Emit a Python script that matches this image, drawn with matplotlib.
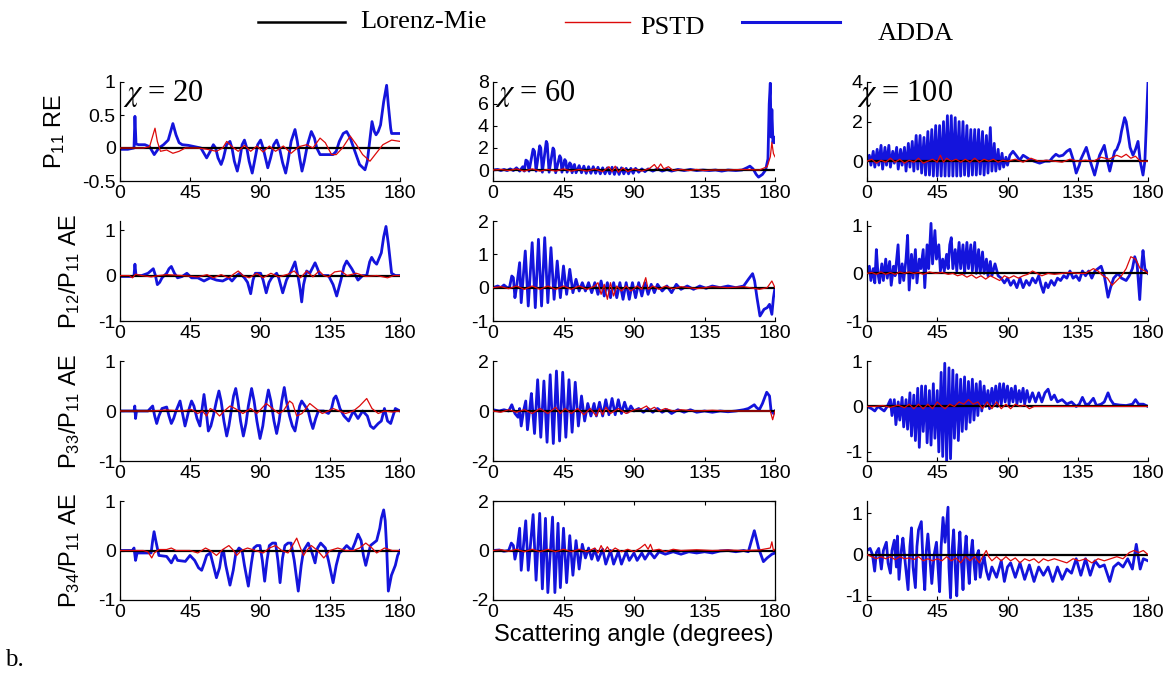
import numpy as np
import matplotlib
matplotlib.use('Agg')
import matplotlib.pyplot as plt
from matplotlib.lines import Line2D

plt.rcParams['font.family'] = 'Liberation Sans'
plt.rcParams['axes.unicode_minus'] = False
plt.rcParams['mathtext.fontset'] = 'custom'
plt.rcParams['mathtext.rm'] = 'Liberation Sans'
plt.rcParams['mathtext.it'] = 'Liberation Sans:italic'

# (angle, value) pairs; a = ADDA, p = PSTD, row/col
a11 = [(0,-0.02),(5,-0.02),(9,0.0),(9.6,0.48),(10.3,0.06),(12,0.05),(16,0.05),(19,0.02),(22,-0.1),(25,0.0),(28,0.05),(31,0.12),(34,0.37),(36,0.2),(38,0.08),(40,0.05),(44,0.04),(48,0.02),(52,0.0),(55.7,-0.15),(58,-0.05),(60,0.05),(61.5,0.0),(63,-0.15),(65,-0.25),(66.5,-0.15),(68.5,0.05),(70.7,0.1),(72,0.0),(73.5,-0.2),(75.4,-0.35),(76.8,-0.2),(78.5,0.05),(80,0.12),(81.5,0.0),(83,-0.2),(85,-0.38),(86.5,-0.2),(88.5,0.05),(90.4,0.12),(92,0.0),(93.5,-0.15),(95,-0.3),(96.8,-0.15),(98.8,0.05),(100.7,0.12),(102.5,0.0),(104.5,-0.22),(106.5,-0.38),(108,-0.2),(110,0.1),(112.5,0.28),(114,0.1),(115.5,-0.15),(117,-0.35),(118.5,-0.2),(120.5,0.05),(123,0.25),(125,0.15),(126.5,0.0),(128.6,-0.1),(132,-0.1),(137,-0.1),(139,-0.05),(141,0.1),(143.5,0.22),(145.7,0.25),(148,0.15),(151,-0.05),(154,-0.25),(157.5,-0.33),(159,-0.2),(160.5,0.1),(162,0.4),(163.5,0.25),(164.6,0.2),(166,0.25),(167.5,0.35),(169.5,0.7),(171.4,0.95),(172.5,0.65),(174,0.3),(174.6,0.22),(177,0.22),(180,0.22)]
p11 = [(0,0),(10,0),(15,0),(19,0.02),(22.5,0.3),(24,0.1),(26,-0.05),(30,-0.03),(34,-0.08),(38,-0.05),(42,0.0),(50,0.0),(56,-0.02),(62,-0.05),(66,0.0),(68.6,0.1),(72,0.02),(76,-0.05),(80,0.04),(84,-0.05),(88,0.03),(92,-0.06),(96,0.03),(100,-0.05),(105,0.03),(110,-0.08),(115,0.02),(120,0.05),(124,0.0),(128.6,0.15),(132,0.08),(136,-0.1),(139,-0.1),(143,0.0),(148,0.18),(152,0.05),(156,-0.1),(160.7,-0.2),(164,-0.1),(169,0.05),(174.6,0.12),(180,0.1)]

a12 = [(0,0.0),(3,0.05),(5,-0.05),(7,0.05),(9,-0.05),(11,0.1),(13,-0.05),(15,0.2),(17,-0.1),(19,0.3),(20,-0.1),(21,0.9),(22,0.8),(23,-0.1),(25.6,1.9),(26.5,1.7),(27.5,-0.1),(29.8,2.2),(30.5,2.0),(31.5,-0.2),(34,2.6),(34.6,2.4),(35.8,-0.2),(38.3,2.0),(39,1.8),(40,-0.25),(42.6,1.3),(43.3,1.1),(44,-0.2),(45.8,0.95),(46.5,0.8),(47.3,-0.2),(49,0.65),(49.8,0.5),(50.5,-0.25),(52,0.5),(53,-0.25),(55,0.4),(56.5,-0.25),(58,0.35),(59.5,-0.3),(61,0.3),(62.5,-0.3),(64,0.3),(65.5,-0.3),(67,0.25),(68.5,-0.35),(70,0.2),(71.5,-0.35),(73,0.2),(74.5,-0.35),(76,0.25),(77.5,-0.4),(79,0.2),(80.5,-0.4),(82,0.2),(83.5,-0.35),(85,0.15),(86.5,-0.35),(88,0.15),(89.5,-0.3),(91,0.15),(93,-0.2),(95,0.1),(97,-0.15),(99,0.1),(102,-0.1),(105,0.1),(108,-0.1),(111,0.05),(114,-0.1),(118,0.05),(122,-0.05),(126,0.05),(130,-0.05),(134,0.0),(138,-0.05),(142,0.0),(146,-0.1),(150,0.0),(155,-0.05),(159,0.0),(162,0.2),(164,0.35),(166,0.1),(168,-0.4),(169.5,-0.65),(172,-0.4),(174,0.0),(175.5,1.0),(176.3,6.0),(177,7.9),(177.5,3.0),(178,5.5),(178.7,2.5),(179.3,3.0),(180,2.5)]
p12 = [(0,0),(5,0.05),(10,-0.05),(15,0.1),(20,-0.1),(25,0.1),(30,-0.1),(35,0.05),(40,-0.1),(45,0.1),(50,-0.1),(55,0.05),(60,-0.1),(65,0.1),(70,-0.15),(74,0.3),(76,-0.15),(78,0.35),(80,-0.2),(83,0.2),(86,-0.15),(90,0.1),(95,-0.1),(100,0.15),(103,0.5),(105,0.1),(107,0.55),(109,0.1),(112,0.3),(115,-0.05),(120,0.05),(125,-0.05),(130,0.05),(135,-0.05),(140,0.0),(150,0.0),(160,0.05),(170,0.0),(175,0.3),(177,1.2),(178,2.5),(179,1.5),(180,1.2)]

a13 = [(0,0.0),(1.5,0.3),(2.5,-0.2),(4,0.5),(5,-0.3),(6.5,0.6),(7.5,-0.2),(9,0.8),(10,-0.4),(11.5,0.7),(12.5,-0.2),(14,0.8),(15,-0.3),(16.5,0.5),(17.5,-0.1),(19,0.7),(20,-0.4),(21.5,0.6),(22.5,-0.2),(24,0.7),(25,-0.5),(26.5,0.9),(27.5,-0.3),(29,1.0),(30,-0.5),(31.5,1.3),(32.5,-0.4),(34,1.3),(35,-0.6),(36.5,1.2),(37.5,-0.7),(39,1.5),(40,-0.7),(41.5,1.6),(42.5,-0.75),(44,1.8),(45,-0.75),(46.5,1.8),(47.5,-0.75),(49,2.0),(50,-0.75),(51.5,2.3),(52.5,-0.75),(54,2.3),(55,-0.75),(56.5,2.2),(57.5,-0.75),(59,2.0),(60,-0.75),(61.5,2.0),(62.5,-0.7),(64,1.8),(65,-0.75),(66.5,1.6),(67.5,-0.7),(69,1.6),(70,-0.7),(71.5,1.6),(72.5,-0.65),(74,1.5),(75,-0.7),(76.5,1.3),(77.5,-0.6),(79,1.7),(80,-0.5),(81.5,0.9),(82.5,-0.5),(84,0.6),(85,-0.4),(86.5,0.4),(87.5,-0.3),(89,0.2),(90,-0.2),(91.5,0.3),(93.5,0.5),(95.5,0.3),(97.8,0.05),(100,0.3),(102,0.2),(104,0.1),(107,0.0),(110.6,-0.1),(114,0.0),(117,0.0),(119,0.2),(121,0.35),(123,0.25),(125.5,0.3),(128,0.5),(130,0.6),(132,0.1),(134,-0.6),(136,-0.2),(137,0.1),(140.5,0.7),(143,0.0),(145.8,-0.7),(148,0.0),(149,0.3),(152,0.8),(154,0.0),(155.5,-0.5),(157,0.0),(158.7,0.5),(160,0.6),(161.9,1.0),(163,1.5),(165,2.2),(166,2.0),(167,1.5),(168.5,0.7),(170.4,0.3),(172,0.6),(173.6,1.0),(175,0.0),(176.8,-0.7),(178,0.0),(179,2.0),(180,4.0)]
p13 = [(0,0.0),(3,0.1),(6,-0.1),(9,0.05),(12,-0.05),(15,0.15),(18,-0.05),(21,0.1),(24,-0.1),(27,0.05),(30,-0.05),(33,0.15),(36,-0.1),(39,0.0),(42,0.1),(45,-0.05),(47,0.3),(49,-0.05),(51,0.15),(54,0.0),(57,0.1),(60,-0.05),(63,0.1),(66,-0.05),(69,0.15),(72,-0.05),(75,0.1),(78,0.0),(81,0.1),(84,-0.05),(87,0.05),(90,0.0),(95,0.1),(100,-0.05),(105,0.15),(110,0.0),(115,0.05),(120,0.0),(125,-0.05),(130,0.1),(135,0.0),(140,0.05),(145,0.0),(150,0.2),(155,0.1),(160,0.3),(163,0.2),(166,0.35),(169,0.15),(172,0.25),(175,0.0),(180,0.0)]

a21 = [(0,-0.02),(8,-0.02),(9,0.0),(9.6,0.25),(10.3,0.0),(14,0.0),(18,0.05),(21.4,0.15),(22.8,0.0),(24,-0.2),(25.5,-0.15),(27,-0.05),(30,0.05),(31.5,0.15),(33,0.2),(35,0.05),(37,-0.05),(40,-0.02),(43,0.05),(46,-0.05),(50,-0.05),(54,-0.12),(58,-0.05),(62,-0.1),(66,-0.12),(70,-0.05),(72,-0.12),(75,0.0),(77,0.05),(80,-0.05),(82,-0.15),(84,-0.4),(85.5,-0.1),(87,0.05),(90.4,0.05),(92,-0.1),(94,-0.38),(95.8,-0.15),(97.5,-0.05),(100.7,0.05),(102,-0.05),(104.6,-0.38),(107,-0.1),(110,0.1),(112.5,0.3),(114.6,-0.05),(115.8,-0.3),(116.8,-0.58),(118,-0.2),(120,0.1),(122,0.05),(125.4,0.28),(127,0.15),(128.6,0.0),(134,0.0),(137,-0.2),(139.3,-0.45),(142,-0.1),(144,0.2),(145.7,0.32),(149,0.15),(153,-0.1),(156,0.0),(158.6,0.0),(160.5,0.3),(161.8,0.4),(163.5,0.3),(165,0.25),(168,0.5),(169.5,0.85),(171,1.08),(172.5,0.7),(174.6,0.05),(177,0.0),(180,0.0)]
p21 = [(0,0),(6,0.0),(8,-0.05),(10,0.03),(14,0.0),(20,-0.03),(25,0.0),(30,0.02),(40,0.0),(50,-0.03),(56,0.02),(60,-0.05),(65,0.02),(70,-0.05),(73,0.03),(76,0.1),(79,0.0),(83,-0.05),(88,0.05),(92,-0.05),(97,0.05),(102,-0.03),(108,0.03),(112,0.1),(116,-0.05),(120,0.1),(124,-0.03),(128,0.1),(131,0.0),(134,-0.03),(138,0.08),(142,0.1),(146,0.0),(152,0.05),(158,-0.02),(165,0.0),(172,-0.05),(176,0.0),(180,0.0)]

a22 = [(0,0.0),(3,0.05),(5,0.0),(7,0.08),(9,0.0),(10.5,0.0),(12,0.35),(13,0.3),(14,-0.3),(15,0.0),(17,0.75),(18,-0.45),(20.6,1.1),(22.5,-0.55),(25,1.35),(27,-0.6),(29,1.45),(31,-0.55),(33,1.5),(35,-0.45),(37,1.2),(39,-0.35),(41,0.8),(43,-0.3),(45,0.65),(47,-0.2),(49,0.55),(51,-0.15),(53,0.25),(55,-0.1),(57,0.15),(59,-0.1),(61,0.15),(63,-0.15),(65,0.15),(67,-0.2),(69,0.2),(71,-0.25),(73,0.15),(75,-0.3),(77,0.15),(79,-0.3),(81,0.15),(83,-0.35),(85,0.15),(87,-0.35),(89,0.15),(91,-0.3),(93,0.15),(95,-0.25),(97,0.15),(99,-0.2),(101,0.1),(103,-0.15),(105,0.1),(108,-0.1),(111,0.05),(114,-0.15),(117,0.1),(120,-0.05),(124,0.05),(128,-0.05),(132,0.05),(136,-0.02),(140,0.05),(145,0.0),(150,0.05),(155,0.0),(160,0.05),(163,0.25),(165.7,0.42),(167,0.2),(168.5,-0.3),(170.4,-0.85),(173,-0.65),(175,-0.6),(176.5,-0.5),(178,-0.8),(179,-0.3),(180,0.0)]
p22 = [(0,0),(5,0.03),(10,-0.03),(15,0.05),(20,-0.05),(25,0.05),(30,-0.05),(35,0.05),(40,-0.05),(45,0.05),(50,-0.05),(55,0.05),(60,-0.05),(65,0.05),(67,0.15),(69,-0.2),(71,0.1),(73,-0.35),(75,0.15),(77,-0.25),(79,0.05),(82,-0.1),(85,0.05),(88,-0.1),(92,0.05),(95,-0.05),(97.5,0.3),(99,-0.05),(102,0.05),(106,-0.05),(110,0.05),(115,-0.03),(120,0.03),(130,-0.03),(140,0.03),(150,0.0),(160,0.03),(170,-0.05),(175,0.0),(178,0.2),(180,0.0)]

a23 = [(0,0.0),(1.5,0.15),(2.5,-0.15),(4,0.1),(5,-0.2),(6,0.5),(7,0.0),(8,-0.2),(9.5,0.2),(10.5,-0.15),(12,0.3),(13,-0.1),(14.5,0.25),(15.5,-0.25),(17,0.15),(18,-0.05),(19.9,0.6),(21,-0.2),(22.5,0.2),(23.5,-0.15),(25,0.3),(26,0.8),(27,-0.35),(28.5,0.4),(29.5,-0.1),(31,0.5),(32,-0.2),(33.5,0.3),(34.5,0.1),(36,0.5),(37,-0.3),(38.5,0.6),(39.5,0.1),(41,1.05),(42,0.2),(43.5,0.9),(44.5,0.3),(46,0.6),(47,0.05),(48.5,0.3),(49.5,0.05),(51,0.4),(52,0.1),(53,0.6),(54,0.75),(55,0.1),(56.5,0.5),(57.5,0.05),(59,0.65),(60,0.1),(61.5,0.6),(62.5,0.0),(64,0.65),(65,0.1),(66.5,0.6),(67.5,0.05),(69,0.65),(70,0.0),(71.5,0.5),(72.5,0.0),(74,0.45),(75,0.0),(76.5,0.3),(77.5,-0.05),(79,0.25),(80,-0.05),(82,0.2),(84,-0.05),(86,-0.1),(88,-0.2),(90,-0.1),(92,-0.25),(94,-0.15),(96,-0.3),(98,-0.1),(100,-0.3),(102,-0.15),(104,-0.25),(106,-0.1),(108,-0.2),(110,-0.05),(111.5,-0.25),(113,-0.4),(114.5,-0.2),(116,-0.3),(118,-0.15),(120,-0.25),(122,-0.1),(124,-0.15),(126,-0.05),(128,-0.1),(130,0.05),(132,-0.1),(134,-0.05),(136,-0.15),(138,0.05),(140,-0.05),(142,0.05),(144,-0.1),(146,0.05),(148,0.1),(150,0.15),(152,-0.05),(154.4,-0.5),(156,-0.3),(158,-0.1),(160.8,0.0),(163,-0.1),(166,-0.15),(168,-0.05),(170,0.1),(171.5,0.35),(173,0.2),(174.7,-0.55),(176,0.2),(176.8,0.48),(178,0.1),(180,0.0)]
p23 = [(0,0.0),(3,0.02),(6,-0.02),(9,0.03),(12,-0.02),(15,0.02),(18,-0.02),(21,0.03),(24,0.0),(27,0.03),(30,0.0),(33,0.02),(36,-0.02),(40,0.03),(44,0.0),(48,0.02),(52,-0.02),(55,0.0),(58,-0.05),(61,-0.02),(64,-0.08),(67,-0.03),(70,-0.1),(73,-0.05),(76,-0.12),(79,-0.05),(82,-0.1),(85,-0.15),(88,-0.05),(91,-0.1),(94,-0.05),(97,-0.1),(100,-0.05),(103,-0.02),(106,0.05),(109,0.0),(112,-0.05),(116,0.0),(120,-0.02),(125,0.0),(130,0.02),(135,0.0),(140,0.0),(145,0.1),(148,0.05),(151,-0.05),(154,-0.1),(157,-0.25),(160,-0.15),(163,-0.05),(166,0.1),(169,0.35),(172,0.3),(175,0.1),(178,0.05),(180,0.0)]

a31 = [(0,0.0),(9,0.0),(9.5,0.1),(10,-0.15),(10.6,0.0),(18,0.0),(19.5,0.05),(21,0.1),(22.3,-0.1),(23.6,-0.25),(25,-0.1),(27,0.05),(30,0.08),(31.5,-0.1),(33,-0.25),(34.5,-0.15),(36,0.0),(38.6,0.2),(40.2,-0.05),(41.8,-0.3),(43,-0.15),(44.5,0.05),(46,0.2),(47.5,0.1),(49.5,-0.15),(51.4,-0.3),(52.8,0.05),(54,0.33),(55.4,0.0),(56.8,-0.4),(58.4,-0.3),(60,-0.1),(62,0.2),(63.6,0.4),(65,0.2),(66.8,-0.2),(68.6,-0.5),(70,-0.3),(71.5,0.0),(73,0.3),(74.4,0.45),(75.8,0.2),(77.5,-0.2),(79.3,-0.5),(81,-0.25),(82.5,0.1),(84.6,0.45),(86.2,0.2),(88,-0.2),(90,-0.55),(91.8,-0.3),(93.5,0.1),(95.4,0.42),(97,0.2),(99,-0.2),(100.7,-0.45),(102.3,-0.2),(104,0.2),(105.6,0.47),(107,0.2),(109,-0.1),(110.8,-0.3),(112.5,-0.4),(114,-0.15),(115.5,0.1),(116.8,0.2),(119,0.1),(121,0.0),(122.5,-0.2),(124,-0.35),(125.8,-0.15),(127.5,0.0),(131,0.0),(134,-0.05),(136,0.05),(137.5,0.25),(138.8,0.3),(140,0.2),(141.4,0.05),(144,-0.1),(147,-0.2),(150,0.0),(153,-0.15),(156,0.0),(159,-0.1),(161,-0.3),(163,-0.35),(166,-0.25),(168,-0.2),(170,0.05),(172,-0.2),(174,-0.25),(177,0.05),(180,0.0)]
p31 = [(0,0.0),(20,0.0),(30,0.02),(40,0.0),(46,0.03),(50,-0.05),(53,0.0),(55.7,-0.1),(58,0.05),(61,0.0),(64,-0.1),(67,0.0),(70.7,0.1),(74,0.05),(79,-0.05),(84,0.05),(88,-0.05),(94,0.15),(98,0.05),(102,-0.05),(105,0.0),(109,0.2),(111,0.15),(113.6,-0.1),(117,-0.05),(122,0.15),(126,0.05),(130,-0.05),(134,0.0),(137,0.05),(141,0.0),(145,-0.05),(150,0.0),(154,0.1),(158.6,0.25),(162,0.05),(166,-0.05),(170,0.0),(175,-0.02),(180,0.0)]

a32 = [(0,0.05),(4,0.0),(7,0.05),(10,0.0),(12,0.25),(14,-0.1),(16,-0.25),(17,0.1),(18,-0.6),(19.5,0.0),(20.9,0.4),(22,-0.75),(23.5,0.1),(24.5,0.7),(26.5,-0.9),(28.5,1.25),(30.5,-1.05),(32.5,1.2),(34.5,-1.25),(36.5,1.45),(38.5,-1.3),(40.5,1.6),(42.5,-1.2),(44.5,1.55),(46.5,-1.05),(48.5,1.25),(50.5,-0.85),(52.5,1.15),(54.5,-0.6),(56.5,0.6),(58.5,-0.4),(60.5,0.3),(62.5,-0.2),(64.5,0.3),(66,-0.2),(68,0.35),(70,-0.2),(72,0.45),(74,-0.15),(76,0.5),(78,-0.15),(80,0.45),(82,-0.1),(84,0.35),(86,-0.05),(88,0.2),(90,0.0),(93,0.1),(96,-0.05),(99,0.1),(102,-0.05),(105,0.1),(108,-0.05),(111,0.05),(114,-0.1),(118,0.05),(122,-0.05),(126,0.05),(130,-0.05),(135,0.0),(140,-0.05),(145,0.0),(150,-0.03),(155,0.0),(160,0.05),(163,0.1),(166.8,0.25),(168,0.15),(170,0.05),(172,0.3),(174.7,0.75),(176.5,0.6),(177.5,0.0),(179,-0.1),(180,0.0)]
p32 = [(0,0.0),(5,-0.05),(10,0.05),(15,-0.05),(20,0.05),(25,-0.1),(30,0.1),(35,-0.1),(40,0.15),(43,-0.1),(46,0.1),(50,-0.1),(54,0.1),(58,-0.15),(62,0.1),(66,-0.2),(68,0.1),(70,-0.15),(72,0.15),(75,-0.1),(80,0.1),(85,-0.1),(90,0.05),(95,0.1),(98,0.2),(100,0.05),(103,0.15),(106,0.0),(110,0.1),(115,0.0),(120,0.05),(130,0.0),(140,0.03),(150,0.0),(160,0.0),(170,0.0),(177,0.0),(178.5,-0.35),(180,0.0)]

a33 = [(0,0.0),(3,-0.05),(5,-0.1),(7,0.0),(9,-0.05),(11,-0.1),(13,0.0),(15,0.15),(16,-0.2),(17.5,0.15),(18.5,-0.4),(20,0.1),(21,-0.3),(22.5,0.2),(23.5,-0.45),(25,0.15),(26,-0.5),(27.5,0.3),(28.5,-0.65),(30,0.25),(31,-0.75),(32.5,0.4),(33.5,-0.9),(35,0.45),(36,-0.55),(37.5,0.45),(38.5,-0.8),(40,0.35),(41,-0.85),(42.5,0.5),(43.5,-0.7),(45,0.35),(46,-1.0),(47.5,0.75),(48.5,-1.1),(49.8,0.95),(51,-1.2),(52.5,0.85),(53.5,-1.15),(55,0.8),(56,-0.7),(57.5,0.7),(58.5,-0.75),(60,0.6),(61,-0.55),(62.5,0.65),(63.5,-0.5),(65,0.55),(66,-0.35),(67.5,0.6),(68.5,-0.3),(70,0.5),(71,-0.2),(72.5,0.55),(73.5,-0.1),(75,0.45),(76,0.0),(77.5,0.35),(78.5,-0.05),(80,0.4),(81,0.05),(82.5,0.45),(83.5,0.0),(85,0.5),(86,0.05),(87.5,0.5),(88.5,0.1),(90,0.45),(91,0.05),(92.5,0.4),(93.5,0.1),(95,0.45),(96,0.05),(97.5,0.35),(98.5,0.1),(100,0.4),(101,0.05),(102.5,0.35),(104,0.1),(106,0.3),(108,0.1),(110,0.3),(112,0.1),(114,0.3),(116,0.38),(118,0.15),(120,0.25),(122,0.1),(125,0.15),(128,0.05),(131,0.1),(134,0.0),(136,0.05),(138,0.2),(140,0.05),(142,0.05),(145,0.18),(147,0.02),(150,0.05),(152,0.1),(154.4,0.3),(156,0.15),(158,0.05),(162,0.03),(166,0.02),(170,0.05),(172,0.15),(174,0.05),(177,0.05),(180,0.0)]
p33 = [(0,0.0),(5,0.0),(10,0.02),(15,-0.02),(20,0.03),(24,-0.03),(27,0.05),(30,-0.05),(33,0.05),(36,-0.05),(39,0.05),(42,-0.05),(45,0.1),(48,0.0),(50,-0.05),(53,0.05),(56,0.0),(59,0.1),(62,0.05),(65,0.15),(68,0.05),(71,0.1),(74,-0.05),(77,0.1),(80,-0.05),(83,0.1),(86,-0.05),(89,0.05),(92,-0.05),(95,0.05),(98,0.0),(101,0.03),(104,-0.05),(107,0.0),(110,0.0),(180,0.0)]

a41 = [(0,0.0),(8,0.0),(9,0.05),(10,-0.2),(11,-0.05),(15,-0.05),(20,-0.05),(21,0.2),(21.9,0.38),(23,0.2),(24,0.05),(25,-0.1),(30,-0.12),(33,-0.25),(35.4,-0.1),(37,-0.2),(42,-0.22),(45,-0.1),(48,-0.2),(50.5,-0.35),(52.5,-0.4),(54.2,-0.25),(55.7,-0.1),(58,-0.05),(60,-0.3),(62,-0.55),(64,-0.35),(65.5,-0.05),(66.5,0.0),(68,-0.3),(70.7,-0.7),(72.8,-0.4),(74.5,-0.05),(76.5,0.05),(78.5,0.0),(80,-0.3),(82.5,-0.72),(84.5,-0.25),(86,0.05),(88,0.1),(90,0.1),(91.5,-0.2),(93,-0.62),(94.5,-0.2),(96,0.1),(98,0.15),(100,0.15),(101.5,-0.2),(102.9,-0.65),(104.5,-0.15),(106,0.1),(108,0.15),(110,0.15),(112,-0.2),(114.6,-0.82),(116.5,-0.3),(118,0.0),(120,0.1),(121,0.15),(123,0.0),(125.4,-0.25),(127,0.05),(129,0.15),(132,0.05),(134,-0.2),(137,-0.65),(139,-0.3),(141,-0.05),(143,0.0),(145.7,0.1),(149,0.0),(151,0.15),(153,0.33),(155,0.2),(156.5,-0.1),(158,-0.3),(159.5,-0.1),(161,0.1),(163,0.15),(165,0.2),(167,0.45),(168,0.65),(169.5,0.82),(170.5,0.6),(171.5,0.0),(172.5,-0.82),(174.5,-0.5),(177,-0.3),(178.5,-0.1),(180,0.0)]
p41 = [(0,0.0),(15,0.0),(18,-0.03),(20.4,-0.15),(22,-0.05),(25,0.02),(30,0.02),(33,0.05),(36,0.0),(45,0.0),(50,-0.05),(55,0.05),(58,0.0),(62,-0.1),(66,0.02),(70,0.1),(73,0.0),(75,-0.1),(78,0.0),(82,0.05),(87,0.0),(92,-0.05),(96,0.05),(100,0.1),(104,0.0),(108,-0.05),(110,0.05),(113.6,0.25),(116,0.05),(118,-0.1),(120,0.0),(123,0.1),(127,0.0),(131,-0.15),(135,0.0),(140,0.05),(145,0.0),(150,0.0),(154,0.05),(158,0.15),(162,0.05),(165,-0.05),(170,0.05),(175,0.0),(180,0.0)]

a42 = [(0,0.0),(4,0.02),(7,-0.03),(10,0.0),(11.7,0.3),(13,0.2),(14,-0.35),(15.5,0.1),(17,0.9),(18,-0.8),(20.9,1.2),(22.5,-0.8),(25.6,1.45),(27.5,-1.2),(29.8,1.5),(31.5,-1.55),(33.5,1.3),(35,-1.7),(38,1.35),(39.5,-1.7),(41.5,1.1),(43,-1.5),(45,0.9),(47,-1.3),(49,0.6),(51,-1.0),(53,0.4),(55,-0.75),(57,0.25),(59,-0.3),(61,0.1),(63,-0.35),(65,0.05),(67,-0.4),(70,0.05),(72,-0.55),(75,0.0),(77,-0.55),(80,-0.05),(82,-0.55),(85,-0.05),(87,-0.4),(90,-0.1),(92,-0.4),(95,-0.1),(97,-0.35),(100,-0.05),(103,-0.3),(106,-0.05),(110,-0.15),(115,-0.05),(120,-0.15),(125,-0.05),(130,-0.1),(135,-0.05),(140,-0.1),(145,-0.02),(150,0.0),(155,-0.05),(160,0.0),(163,-0.05),(165,0.4),(166.8,0.8),(168,0.5),(169.5,0.1),(172.6,-0.45),(175,-0.3),(178,-0.15),(180,-0.1)]
p42 = [(0,0.0),(5,0.03),(10,-0.03),(15,0.05),(20,-0.05),(25,0.05),(30,-0.05),(35,0.05),(40,-0.05),(45,0.05),(50,-0.05),(55,0.05),(60,-0.05),(65,0.1),(67,-0.1),(69,0.2),(71,-0.05),(73,0.15),(75,-0.05),(78,0.1),(82,-0.05),(86,0.05),(90,-0.05),(94,0.1),(97,0.25),(99,0.05),(100.5,0.25),(102,0.0),(106,0.05),(110,-0.05),(115,0.05),(120,0.0),(130,0.03),(140,0.0),(150,0.02),(160,0.0),(170,0.02),(177,0.1),(178,0.35),(179,0.0),(180,0.05)]

a43 = [(0,0.1),(2,0.15),(3.5,0.0),(4.9,-0.4),(6,0.05),(7.5,0.15),(9.2,-0.35),(10.5,0.1),(12.4,0.3),(13.5,-0.2),(15,-0.45),(16,0.1),(17.5,0.35),(18.8,-0.3),(19.5,0.45),(20.5,-0.6),(22,0.1),(23,0.4),(24.5,-0.2),(26.3,-0.85),(27.5,0.2),(28.5,0.65),(29.5,-0.3),(31,-0.8),(32,0.2),(33,0.6),(34.8,0.8),(36,-0.3),(37,-0.85),(38,0.1),(39,0.5),(40.5,-0.2),(41.5,-0.7),(43,0.0),(44.5,0.3),(45.5,-0.3),(46.5,-0.9),(47.5,0.2),(48.7,0.9),(50,0.3),(51.9,1.15),(52.5,-0.3),(53.5,-1.05),(54.5,0.1),(55.5,0.6),(56.5,-0.3),(57.5,-1.0),(58.5,0.0),(59.5,0.55),(60.5,-0.2),(61.5,-0.85),(62.5,0.0),(63.5,0.45),(64.5,-0.2),(65.5,-0.7),(66.5,0.0),(67.5,0.35),(68.5,-0.2),(69.5,-0.6),(70.5,0.0),(71.5,0.1),(72.5,-0.55),(74,-0.2),(75,-0.05),(76.5,-0.4),(78,-0.6),(80,-0.3),(83,-0.55),(86,-0.15),(88,-0.65),(90,-0.3),(92,-0.2),(95,-0.55),(98,-0.2),(101,-0.6),(104,-0.25),(107,-0.65),(110,-0.3),(113,-0.5),(116,-0.3),(119,-0.65),(122,-0.3),(125,-0.6),(128,-0.35),(131,-0.45),(134,-0.1),(137,-0.5),(140,-0.1),(143,-0.5),(146,-0.15),(149,-0.3),(152,-0.25),(155.5,-0.65),(158,-0.3),(161,-0.2),(164,-0.3),(167,-0.1),(170,-0.35),(172.5,0.25),(175,-0.35),(177,-0.1),(180,-0.15)]
p43 = [(0,0.0),(3,-0.05),(6,-0.1),(9,-0.05),(12,-0.1),(15,-0.05),(18,-0.12),(21,-0.05),(24,-0.1),(27,-0.08),(30,-0.12),(33,-0.05),(36,-0.15),(39,-0.1),(42,-0.15),(45,-0.1),(48,-0.15),(51,-0.05),(54,-0.15),(57,-0.08),(60,-0.2),(63,-0.05),(66,-0.15),(69,-0.05),(72,-0.2),(74,-0.05),(76.4,0.1),(78,-0.05),(80,-0.15),(83,-0.05),(86,-0.15),(89,-0.05),(92,-0.15),(95,-0.08),(98,-0.2),(101,-0.1),(104,-0.15),(107,-0.1),(110,-0.2),(113,-0.1),(116,-0.15),(120,-0.1),(124,-0.15),(128,-0.2),(132,-0.1),(136,-0.15),(140,-0.1),(144,-0.2),(148,-0.1),(152,-0.15),(156,-0.1),(160,-0.05),(164,-0.1),(168,0.05),(171,0.1),(174,0.05),(177,0.1),(180,0.0)]

# Lorenz-Mie reference (zero error)
lm_x = [0, 180]
lm_y = [0, 0]

chis = ['20', '60', '100']
ylabels = [r'P$_{11}$ RE', r'P$_{12}$/P$_{11}$ AE', r'P$_{33}$/P$_{11}$ AE', r'P$_{34}$/P$_{11}$ AE']
ylims = [[(-0.5, 1), (-1, 8), (-1, 4)],
         [(-1, 1.2), (-1, 2), (-1, 1.1)],
         [(-1, 1), (-2, 2), (-1.2, 1)],
         [(-1, 1), (-2, 2), (-1.1, 1.3)]]
yticks = [[[-0.5, 0, 0.5, 1], [0, 2, 4, 6, 8], [0, 2, 4]],
          [[-1, 0, 1], [-1, 0, 1, 2], [-1, 0, 1]],
          [[-1, 0, 1], [-2, 0, 2], [-1, 0, 1]],
          [[-1, 0, 1], [-2, 0, 2], [-1, 0, 1]]]
xticks = [0, 45, 90, 135, 180]

adda = [[a11, a12, a13], [a21, a22, a23], [a31, a32, a33], [a41, a42, a43]]
pstd = [[p11, p12, p13], [p21, p22, p23], [p31, p32, p33], [p41, p42, p43]]

blue = '#1414dc'
red = '#dc0a0a'

W, H = 1175, 677
fig = plt.figure(figsize=(W / 100, H / 100), dpi=100)

col_px = [(120, 400), (493, 775), (867, 1148)]
row_px = [(82, 181), (221, 321), (361, 461), (501, 600)]
chi_dx = [0.01, 0.007, -0.035]

for r in range(4):
    for c in range(3):
        x0, x1 = col_px[c]
        y0, y1 = row_px[r]
        ax = fig.add_axes([x0 / W, 1 - y1 / H, (x1 - x0) / W, (y1 - y0) / H])
        a = np.array(adda[r][c])
        p = np.array(pstd[r][c])
        ax.plot(a[:, 0], a[:, 1], color=blue, lw=2.0, zorder=2)
        ax.plot(lm_x, lm_y, color='black', lw=1.6, zorder=3)
        ax.plot(p[:, 0], p[:, 1], color=red, lw=0.9, zorder=4)
        ax.set_xlim(0, 180)
        ax.set_ylim(*ylims[r][c])
        ax.set_xticks(xticks)
        ax.set_xticklabels([str(v) for v in xticks])
        ax.set_yticks(yticks[r][c])
        ax.set_yticklabels(['%g' % v for v in yticks[r][c]])
        ax.tick_params(direction='in', length=3, labelsize=14, pad=3, width=0.8)
        if not (r == 3 and c == 1):
            ax.spines['top'].set_visible(False)
            ax.spines['right'].set_visible(False)
        else:
            ax.tick_params(top=True, right=True)
        for s in ax.spines.values():
            s.set_linewidth(0.9)
        if c == 0:
            ax.set_ylabel(ylabels[r], fontsize=17)
            ax.yaxis.set_label_coords(-0.19 if r == 0 else -0.136, 0.5)
        if r == 0:
            ax.text(chi_dx[c], 1.04, r'$\chi$ = ' + chis[c], transform=ax.transAxes,
                    ha='left', va='top', fontsize=22, family='Liberation Serif',
                    math_fontfamily='stix', zorder=6)
        if r == 3 and c == 1:
            ax.set_xlabel('Scattering angle (degrees)', fontsize=17, labelpad=2)

# legend across the top
leg_items = [('Lorenz-Mie', 'black', 1.8, (258, 345), 360, 22),
             ('PSTD', red, 1.0, (565, 630), 640, 28),
             ('ADDA', blue, 2.2, (742, 840), 878, 34)]
for name, col, lw, (lx0, lx1), tx, ty in leg_items:
    fig.add_artist(Line2D([lx0 / W, lx1 / W], [1 - 22 / H, 1 - 22 / H], color=col, lw=lw))
    fig.text(tx / W, 1 - ty / H, name, fontsize=19, family='Liberation Serif',
             ha='left', va='center')

fig.text(5 / W, 1 - 660 / H, 'b.', fontsize=18, family='Liberation Serif', ha='left', va='center')

fig.savefig('out.png', dpi=100)
